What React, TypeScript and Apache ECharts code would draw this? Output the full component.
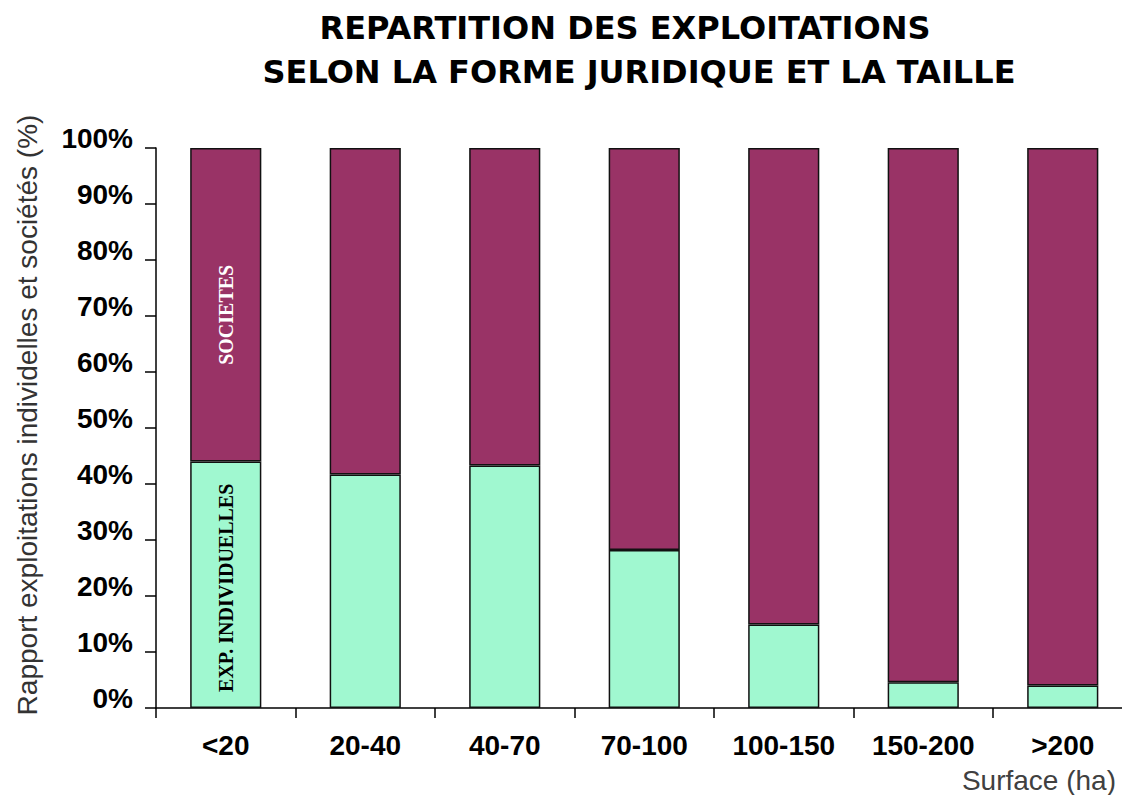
import React, { useEffect, useRef } from "react";
import * as echarts from "echarts";

const categories = ["<20", "20-40", "40-70", "70-100", "100-150", "150-200", ">200"];
const individuelles = [44.0, 41.7, 43.3, 28.2, 14.9, 4.6, 4.0];
const societes = individuelles.map((v) => +(100 - v).toFixed(1));
const yTicks = [0, 10, 20, 30, 40, 50, 60, 70, 80, 90, 100];

const titleLine1 = "REPARTITION DES EXPLOITATIONS";
const titleLine2 = "SELON LA FORME JURIDIQUE ET LA TAILLE";
const yName = "Rapport exploitations individelles et sociétés (%)";
const xName = "Surface (ha)";

export default function App() {
  const ref = useRef<HTMLDivElement>(null);
  useEffect(() => {
    if (!ref.current) return;
    const chart = echarts.init(ref.current, undefined, { renderer: "svg" });
    const labelFont = "Liberation Sans, Arial, sans-serif";
    chart.setOption({
      animation: false,
      backgroundColor: "#ffffff",
      grid: { left: 156, right: 0.5, top: 148, bottom: 87, containLabel: false },
      graphic: [
        {
          type: "text",
          x: 625,
          y: 28,
          style: {
            text: titleLine1,
            font: "bold 32px 'DejaVu Sans', sans-serif",
            fill: "#000",
            textAlign: "center",
            textVerticalAlign: "middle",
          },
        },
        {
          type: "text",
          x: 639,
          y: 72,
          style: {
            text: titleLine2,
            font: "bold 32px 'DejaVu Sans', sans-serif",
            fill: "#000",
            textAlign: "center",
            textVerticalAlign: "middle",
          },
        },
        {
          type: "text",
          x: 27,
          y: 415,
          rotation: Math.PI / 2,
          style: {
            text: yName,
            font: "28px 'Liberation Sans', Arial, sans-serif",
            fill: "#333333",
            textAlign: "center",
            textVerticalAlign: "middle",
          },
        },
        {
          type: "text",
          x: 1116,
          y: 780,
          style: {
            text: xName,
            font: "28px 'Liberation Sans', Arial, sans-serif",
            fill: "#404040",
            textAlign: "right",
            textVerticalAlign: "middle",
          },
        },
      ],
      xAxis: {
        type: "category",
        data: categories,
        axisLine: { lineStyle: { color: "#000", width: 1.5 } },
        axisTick: { show: true, length: 10, lineStyle: { color: "#000", width: 1.5 } },
        axisLabel: {
          color: "#000",
          fontFamily: labelFont,
          fontWeight: "bold",
          fontSize: 28,
          margin: 23,
        },
      },
      yAxis: {
        type: "value",
        min: 0,
        max: 100,
        interval: 10,
        splitLine: { show: false },
        axisLine: { show: true, lineStyle: { color: "#000", width: 1.5 } },
        axisTick: { show: true, length: 11, lineStyle: { color: "#000", width: 1.5 } },
        axisLabel: {
          formatter: (v: number) => (yTicks.includes(v) ? v + "%" : ""),
          color: "#000",
          fontFamily: labelFont,
          fontWeight: "bold",
          fontSize: 28,
          margin: 23,
          verticalAlign: "bottom",
          padding: [0, 0, -4, 0],
        },
      },
      series: [
        {
          name: "EXP. INDIVIDUELLES",
          type: "bar",
          stack: "total",
          barWidth: "51%",
          data: individuelles.map((v, i) =>
            i === 0
              ? {
                  value: v,
                  label: {
                    show: true,
                    position: "inside",
                    rotate: 90,
                    formatter: "EXP. INDIVIDUELLES",
                    color: "#000",
                    fontFamily: "'Liberation Serif', 'Times New Roman', serif",
                    fontWeight: "bold",
                    fontSize: 20,
                    offset: [-3, 0],
                  },
                }
              : v
          ),
          itemStyle: { color: "#a0f8d0", borderColor: "#111", borderWidth: 1.5 },
        },
        {
          name: "SOCIETES",
          type: "bar",
          stack: "total",
          barWidth: "51%",
          data: societes.map((v, i) =>
            i === 0
              ? {
                  value: v,
                  label: {
                    show: true,
                    position: "inside",
                    rotate: 90,
                    formatter: "SOCIETES",
                    color: "#fff",
                    fontFamily: "'Liberation Serif', 'Times New Roman', serif",
                    fontWeight: "bold",
                    fontSize: 20,
                    offset: [-10, 0],
                  },
                }
              : v
          ),
          itemStyle: { color: "#993366", borderColor: "#111", borderWidth: 1.5 },
        },
      ],
    });
    return () => chart.dispose();
  }, []);
  return (
    <div
      style={{
        position: "fixed",
        left: 0,
        top: 0,
        width: 1122,
        height: 795,
        overflow: "hidden",
        background: "#fff",
      }}
    >
      <div ref={ref} style={{ width: 1133, height: 795 }} />
    </div>
  );
}
